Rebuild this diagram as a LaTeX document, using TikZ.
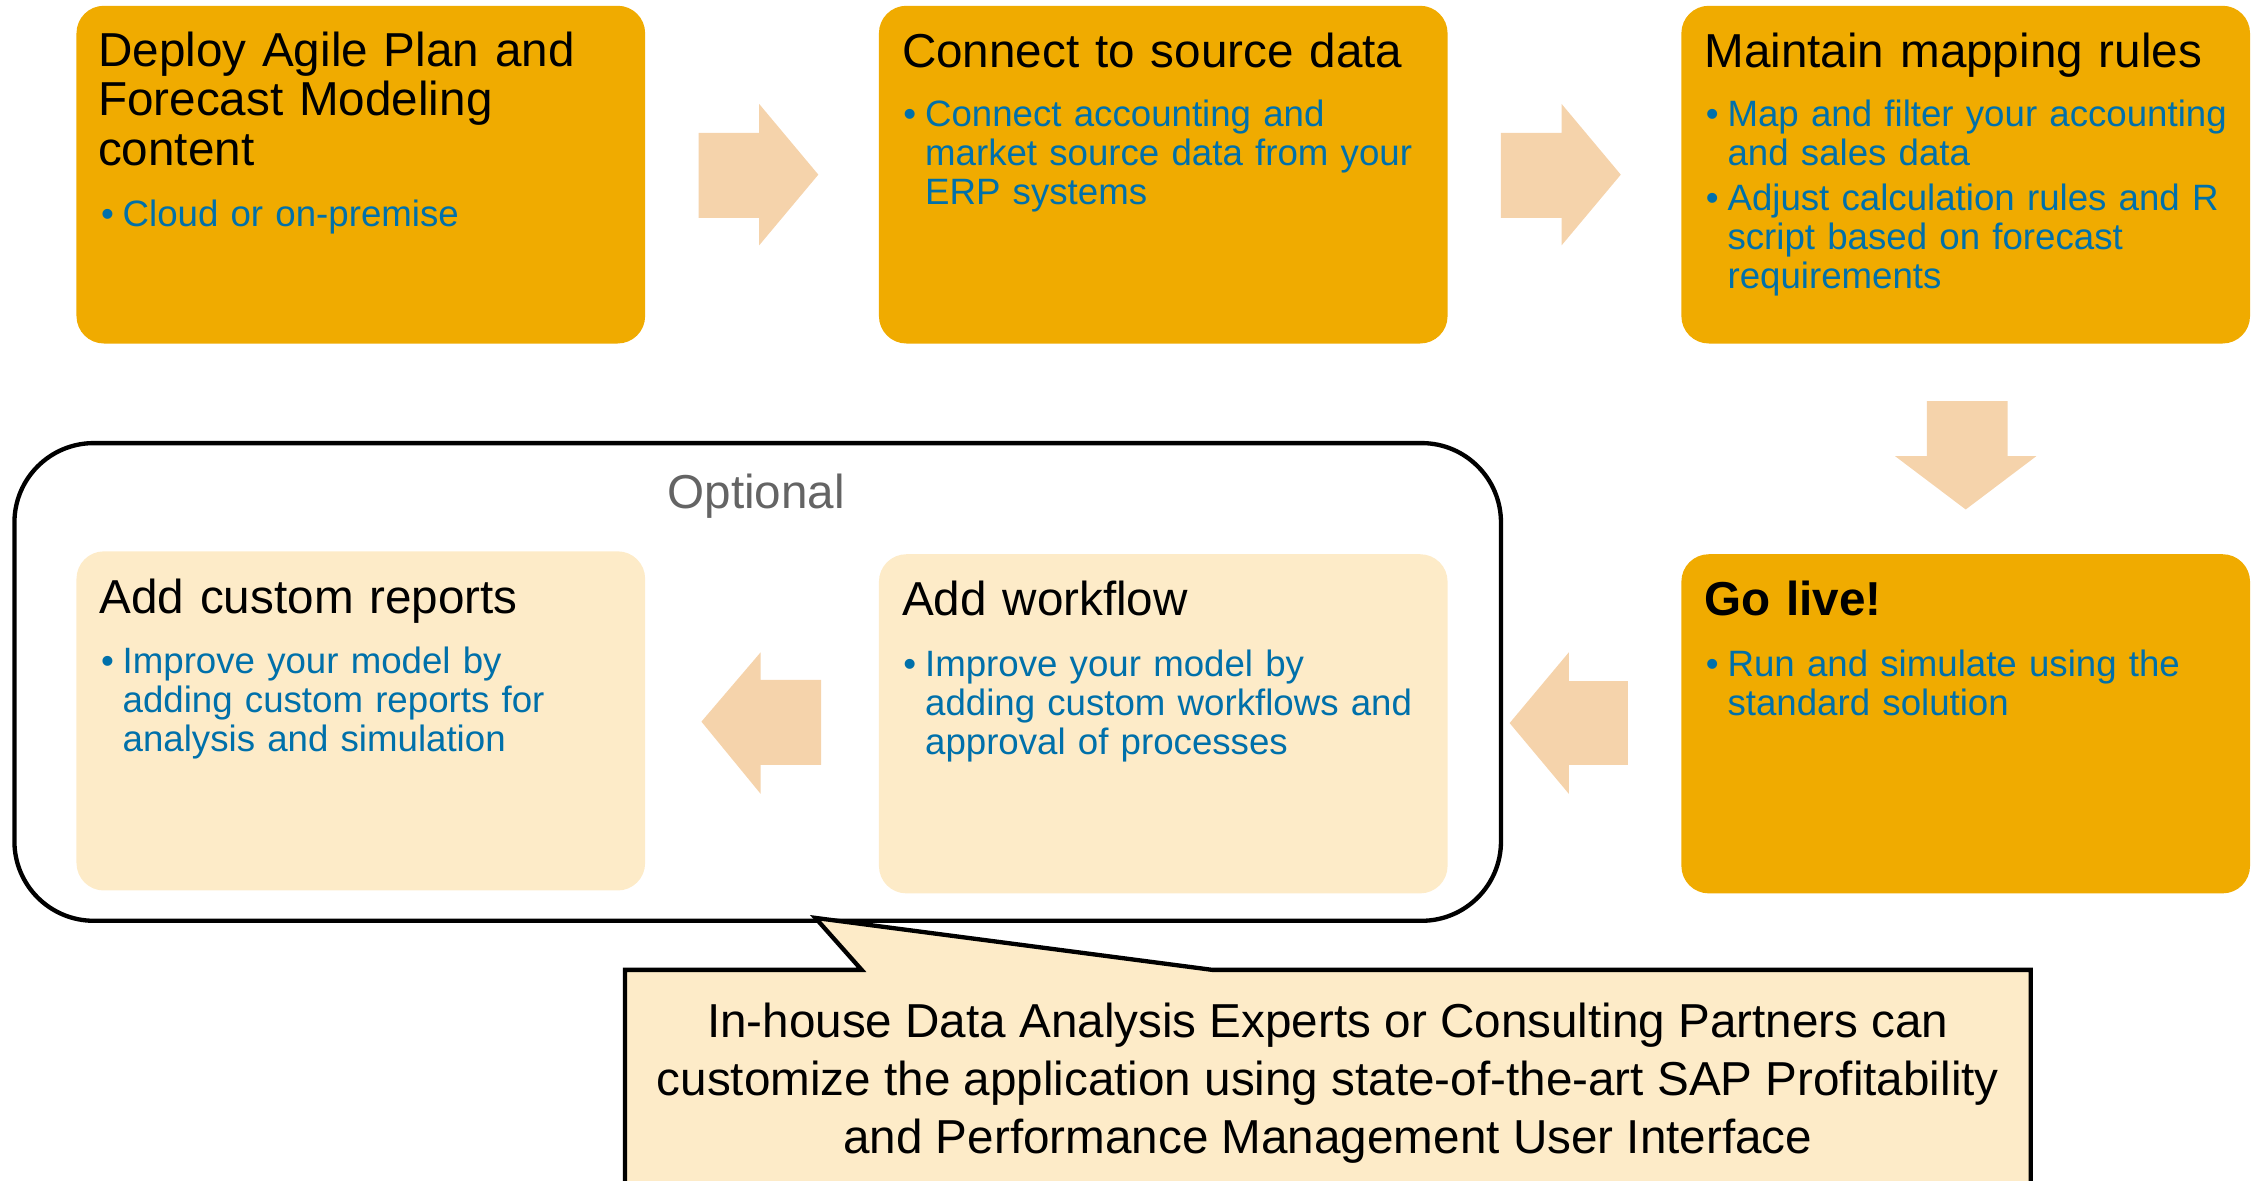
\documentclass[tikz,border=0pt]{standalone}
\usepackage{fontspec}
\setmainfont{Liberation Sans}
\usetikzlibrary{calc}
\definecolor{gold}{RGB}{240,171,0}
\definecolor{cream}{RGB}{253,235,200}
\definecolor{peach}{RGB}{245,211,171}
\definecolor{sapblue}{RGB}{0,112,170}
\definecolor{optgray}{RGB}{100,100,100}
\newcommand\bul[1]{\hangindent=15pt\hangafter=1 \makebox[15pt][l]{•}#1\par}
\tikzset{
  goldbox/.style={rectangle, rounded corners=19pt, fill=gold, draw=none, inner sep=0pt},
  creambox/.style={rectangle, rounded corners=19pt, fill=cream, draw=none, inner sep=0pt},
  boxtitle/.style={anchor=base west, inner sep=0pt, text width=380pt, align=left, font=\fontsize{33}{34.5}\selectfont, text=black},
  boxbullets/.style={anchor=base west, inner sep=0pt, text width=390pt, align=left, font=\fontsize{25.4}{27}\selectfont, text=sapblue},
  blockarrow/.style={fill=peach, draw=none},
}
\begin{document}
\begin{tikzpicture}[x=1pt, y=-1pt]
\useasboundingbox (0,0) rectangle (1568,817.6);
\clip (0,0) rectangle (1568,817.6);

% top row boxes
\node[goldbox, minimum width=394pt, minimum height=234pt] (b1) at (250,121) {};
\node[goldbox, minimum width=394pt, minimum height=234pt] (b2) at (806,121) {};
\node[goldbox, minimum width=394pt, minimum height=234pt] (b3) at (1362,121) {};
% go live
\node[goldbox, minimum width=394pt, minimum height=235pt] (b4) at (1362,501.5) {};

% optional frame
\node[rectangle, draw=black, line width=3pt, rounded corners=55pt, minimum width=1030pt, minimum height=331pt, inner sep=0pt] (opt) at (525,472.5) {};
\node[anchor=base, inner sep=0pt, font=\fontsize{33}{34.5}\selectfont, text=optgray] (optlabel) at (524,352) {Optional};

% light boxes
\node[creambox, minimum width=394pt, minimum height=235pt] (b5) at (806,501.5) {};
\node[creambox, minimum width=394pt, minimum height=235pt] (b6) at (250,499.5) {};

% texts box 1
\node[boxtitle] (t1) at ($(b1.north west)+(15,42)$) {Deploy Agile Plan and\\Forecast Modeling\\content};
\node[boxbullets] (u1) at ($(b1.north west)+(17,153)$) {\bul{Cloud or on-premise}};
% box 2
\node[boxtitle] (t2) at ($(b2.north west)+(16,43)$) {Connect to source data};
\node[boxbullets] (u2) at ($(b2.north west)+(17,84)$) {\bul{Connect accounting and\break market source data from your\break ERP systems}};
% box 3
\node[boxtitle] (t3) at ($(b3.north west)+(16,43)$) {Maintain mapping rules};
\node[boxbullets] (u3) at ($(b3.north west)+(17,84)$) {\bul{Map and filter your accounting\break and sales data}\vspace{4pt}\bul{Adjust calculation rules and R\break script based on forecast\break requirements}};
% box 4
\node[boxtitle, font=\fontsize{33}{34.5}\selectfont\bfseries] (t4) at ($(b4.north west)+(16,43)$) {Go live!};
\node[boxbullets] (u4) at ($(b4.north west)+(17,85)$) {\bul{Run and simulate using the\break standard solution}};
% box 5
\node[boxtitle] (t5) at ($(b5.north west)+(16,43)$) {Add workflow};
\node[boxbullets] (u5) at ($(b5.north west)+(17,85)$) {\bul{Improve your model by\break adding custom workflows and\break approval of processes}};
% box 6
\node[boxtitle] (t6) at ($(b6.north west)+(16,43)$) {Add custom reports};
\node[boxbullets] (u6) at ($(b6.north west)+(17,85)$) {\bul{Improve your model by\break adding custom reports for\break analysis and simulation}};

% block arrows
\fill[blockarrow] (484,92) -- (526,92) -- (526,72) -- (567,121) -- (526,170) -- (526,151) -- (484,151) -- cycle;
\fill[blockarrow] (1040,92) -- (1082,92) -- (1082,72) -- (1123,121) -- (1082,170) -- (1082,151) -- (1040,151) -- cycle;
\fill[blockarrow] (1335,278) -- (1391,278) -- (1391,316) -- (1411,316) -- (1362,353) -- (1313,316) -- (1335,316) -- cycle;
\fill[blockarrow] (1128,472) -- (1087,472) -- (1087,452) -- (1046,501) -- (1087,550) -- (1087,530) -- (1128,530) -- cycle;
\fill[blockarrow] (569,471) -- (527,471) -- (527,452) -- (486,500) -- (527,550) -- (527,530) -- (569,530) -- cycle;

% callout
\coordinate (ctip) at (565,636);
\filldraw[fill=cream, draw=black, line width=3pt, line join=miter] (433,672) -- (597,672) -- (ctip) -- (840,672) -- (1407,672) -- (1407,840) -- (433,840) -- cycle;
\node[anchor=base, inner sep=0pt, align=center, font=\fontsize{33}{40}\selectfont, text=black] (ctext) at (920,799) {In-house Data Analysis Experts or Consulting Partners can\\customize the application using state-of-the-art SAP Profitability\\and Performance Management User Interface};
\end{tikzpicture}
\end{document}
